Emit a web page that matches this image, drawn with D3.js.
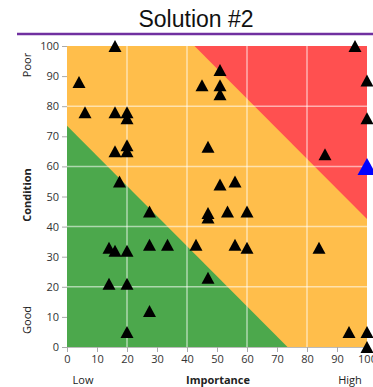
<!DOCTYPE html>
<html>
<head>
<meta charset="utf-8">
<script src="https://cdn.jsdelivr.net/npm/d3@7"></script>
<style>
  body { margin: 0; background: #fff; }
  text { font-family: "Open Sans", "DejaVu Sans", sans-serif; }
</style>
</head>
<body>
<div class="chart"></div>
<script>
var svgWidth = 373;
var svgHeight = 387;

var margin = { top: 46, right: 6, bottom: 40, left: 67 };
var width = svgWidth - margin.left - margin.right;
var height = svgHeight - margin.top - margin.bottom;

// data
var importance = [16, 4, 6, 16, 20, 20, 16, 20, 20, 17.5, 27.5, 14, 16, 20, 27.5, 33.5, 14, 20, 27.5, 20,
  51, 45, 51, 51, 47, 51, 56, 47, 47, 53.5, 60, 43, 56, 60, 47, 86, 84, 94, 100, 100, 96, 100, 100];
var condition = [100, 88, 78, 78, 78, 76, 65, 67, 65, 55, 45, 33, 32, 32, 34, 34, 21, 21, 12, 5,
  92, 87, 87, 84, 66.5, 54, 55, 44.5, 43, 45, 45, 34, 34, 33, 23, 64, 33, 5, 5, 0, 100, 88.5, 76];
var highlight = { importance: 100, condition: 60 };

var xTicks = [0, 10, 20, 30, 40, 50, 60, 70, 80, 90, 100];
var yTicks = [0, 10, 20, 30, 40, 50, 60, 70, 80, 90, 100];
var gridTicks = [20, 40, 60, 80];

// zone boundaries (importance + condition)
var greenLimit = 73.5;
var redLimit = 142.5;

var svg = d3.select(".chart")
  .append("svg")
  .attr("width", svgWidth)
  .attr("height", svgHeight);

// title and rule
svg.append("text")
  .attr("x", 196)
  .attr("y", 27)
  .attr("text-anchor", "middle")
  .attr("font-size", "23px")
  .attr("fill", "#111")
  .style("font-family", "'Liberation Sans', Arial, sans-serif")
  .text("Solution #2");

svg.append("line")
  .attr("x1", 17).attr("x2", 373)
  .attr("y1", 34).attr("y2", 34)
  .attr("stroke", "#7030A0")
  .attr("stroke-width", 2.5);

var chartGroup = svg.append("g")
  .attr("transform", `translate(${margin.left}, ${margin.top})`);

var x = d3.scaleLinear().domain([0, 100]).range([0, width]);
var y = d3.scaleLinear().domain([0, 100]).range([height, 0]);

// background zones
var line = d3.line().x(d => x(d[0])).y(d => y(d[1]));

chartGroup.append("rect")
  .attr("width", width)
  .attr("height", height)
  .attr("fill", "#FFBE4B");

chartGroup.append("path")
  .attr("d", line([[0, 0], [0, greenLimit], [greenLimit, 0]]) + "Z")
  .attr("fill", "#4CA84C");

chartGroup.append("path")
  .attr("d", line([[redLimit - 100, 100], [100, 100], [100, redLimit - 100]]) + "Z")
  .attr("fill", "#FF5050");

// grid
chartGroup.selectAll(".vgrid")
  .data(gridTicks)
  .enter()
  .append("line")
  .attr("x1", d => x(d)).attr("x2", d => x(d))
  .attr("y1", 0).attr("y2", height)
  .attr("stroke", "#fff")
  .attr("stroke-opacity", 0.55)
  .attr("stroke-width", 1.5);

chartGroup.selectAll(".hgrid")
  .data(gridTicks)
  .enter()
  .append("line")
  .attr("x1", 0).attr("x2", width)
  .attr("y1", d => y(d)).attr("y2", d => y(d))
  .attr("stroke", "#fff")
  .attr("stroke-opacity", 0.55)
  .attr("stroke-width", 1.5);

// axes
var bottomAxis = d3.axisBottom(x).tickValues(xTicks).tickSize(5).tickPadding(3);
var leftAxis = d3.axisLeft(y).tickValues(yTicks).tickSize(5).tickPadding(3);

var xAxisG = chartGroup.append("g")
  .attr("transform", `translate(0, ${height})`)
  .call(bottomAxis);

var yAxisG = chartGroup.append("g")
  .call(leftAxis);

[xAxisG, yAxisG].forEach(function(g) {
  g.select(".domain").attr("stroke", "#bbb");
  g.selectAll(".tick line").attr("stroke", "#aaa");
  g.selectAll(".tick text")
    .attr("fill", "#333")
    .attr("font-size", "11px")
    .style("font-family", "'Open Sans', sans-serif");
});
yAxisG.select(".domain").remove();

// markers
function triangle(w, h) {
  return `M0,${-h / 2}L${w / 2},${h / 2}L${-w / 2},${h / 2}Z`;
}

chartGroup.selectAll(".pt")
  .data(importance)
  .enter()
  .append("path")
  .attr("d", triangle(13, 12))
  .attr("transform", (d, i) => `translate(${x(d)}, ${y(condition[i])})`)
  .attr("fill", "#000");

chartGroup.append("path")
  .attr("d", triangle(19, 17))
  .attr("transform", `translate(${x(highlight.importance)}, ${y(highlight.condition)})`)
  .attr("fill", "#0000FF");

// axis titles
function yLabel(text, cy, bold) {
  svg.append("text")
    .attr("transform", `translate(31, ${cy}) rotate(-90)`)
    .attr("text-anchor", "middle")
    .attr("font-size", "11px")
    .attr("font-weight", bold ? "bold" : "normal")
    .attr("fill", "#222")
    .text(text);
}
yLabel("Poor", 65, false);
yLabel("Condition", 195, true);
yLabel("Good", 320, false);

function xLabel(text, cx, bold) {
  svg.append("text")
    .attr("x", cx)
    .attr("y", 384)
    .attr("text-anchor", "middle")
    .attr("font-size", "11px")
    .attr("font-weight", bold ? "bold" : "normal")
    .attr("fill", "#222")
    .text(text);
}
xLabel("Low", 83, false);
xLabel("Importance", 218, true);
xLabel("High", 350, false);
</script>
</body>
</html>
